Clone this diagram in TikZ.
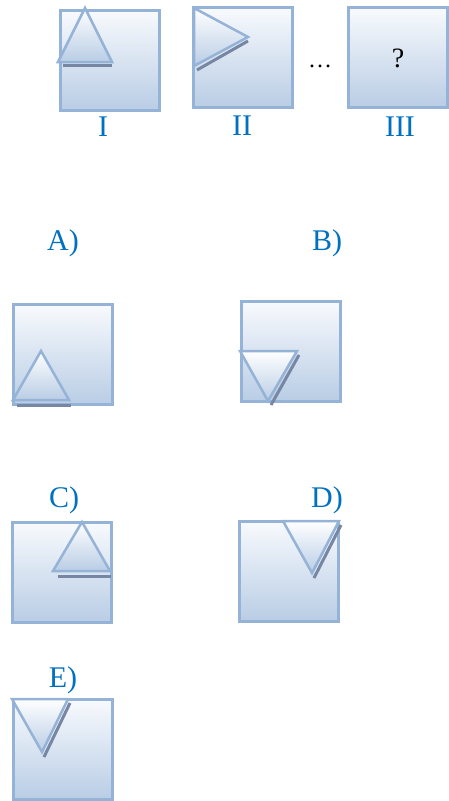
\documentclass[tikz,border=0pt]{standalone}
\usepackage{fontspec}
\setmainfont{Liberation Serif}
\definecolor{bd}{HTML}{95B3D7}
\definecolor{ftop}{HTML}{F8FAFD}
\definecolor{fbot}{HTML}{B9CDE5}
\definecolor{shd}{HTML}{7787A3}
\definecolor{lbl}{HTML}{0070C0}
\tikzset{
 card/.style={draw=bd, line width=3pt, top color=ftop, bottom color=fbot, minimum width=99pt, minimum height=100pt, inner sep=0pt, outer sep=0pt},
 tri/.style={draw=bd, line width=2.5pt, top color=white, bottom color=fbot, line join=miter},
 shadowline/.style={draw=shd, line width=3pt},
 lab/.style={text=lbl, font=\fontsize{30}{32}\selectfont, inner sep=0pt},
 blk/.style={font=\fontsize{28}{30}\selectfont, inner sep=0pt},
 dotsty/.style={font=\fontsize{24}{26}\selectfont, inner sep=0pt}
}
\begin{document}
\begin{tikzpicture}[x=1pt,y=-1pt]
\useasboundingbox (0,0) rectangle (448,801);
% top row
\node[card] (bI) at (109.5,60) {};
\draw[shadowline] (63,65) -- (112,65);
\shade[tri] (58,62) -- (85,8) -- (112,62) -- cycle;
\node[lab] (lI) at (103,127) {I};

\node[card] (bII) at (242.5,57.5) {};
\draw[shadowline] (197,70) -- (248,41);
\shade[tri] (194,8) -- (248,37) -- (194,66) -- cycle;
\node[lab] (lII) at (242,126) {II};

\node[dotsty] (dots) at (320,66) {\ldots};
\node[card] (bIII) at (398,57.5) {};
\node[blk] (q) at (398,58) {?};
\node[lab] (lIII) at (400,127) {III};

% options
\node[lab] (lA) at (63,243) {A)};
\node[lab] (lB) at (327,243) {B)};

\node[card] (bA) at (62.5,354.5) {};
\draw[shadowline] (17,405) -- (71,405);
\shade[tri] (13,400) -- (41,351) -- (69,400) -- cycle;

\node[card] (bB) at (290.5,351) {};
\draw[shadowline] (299,355) -- (271,405);
\shade[tri] (240,351) -- (297,351) -- (268,401) -- cycle;

\node[lab] (lC) at (64,500) {C)};
\node[lab] (lD) at (327,500) {D)};

\node[card] (bC) at (62,572) {};
\draw[shadowline] (58,576) -- (111,576);
\shade[tri] (53,571) -- (82,522) -- (110,571) -- cycle;

\node[card] (bD) at (288.5,571) {};
\draw[shadowline] (341,525) -- (314,578);
\shade[tri] (283,521) -- (339,521) -- (312,573) -- cycle;

\node[lab] (lE) at (63,680) {E)};
\node[card] (bE) at (62.5,749) {};
\draw[shadowline] (70,703) -- (44,757);
\shade[tri] (12,699) -- (68,699) -- (42,752) -- cycle;
\end{tikzpicture}
\end{document}
